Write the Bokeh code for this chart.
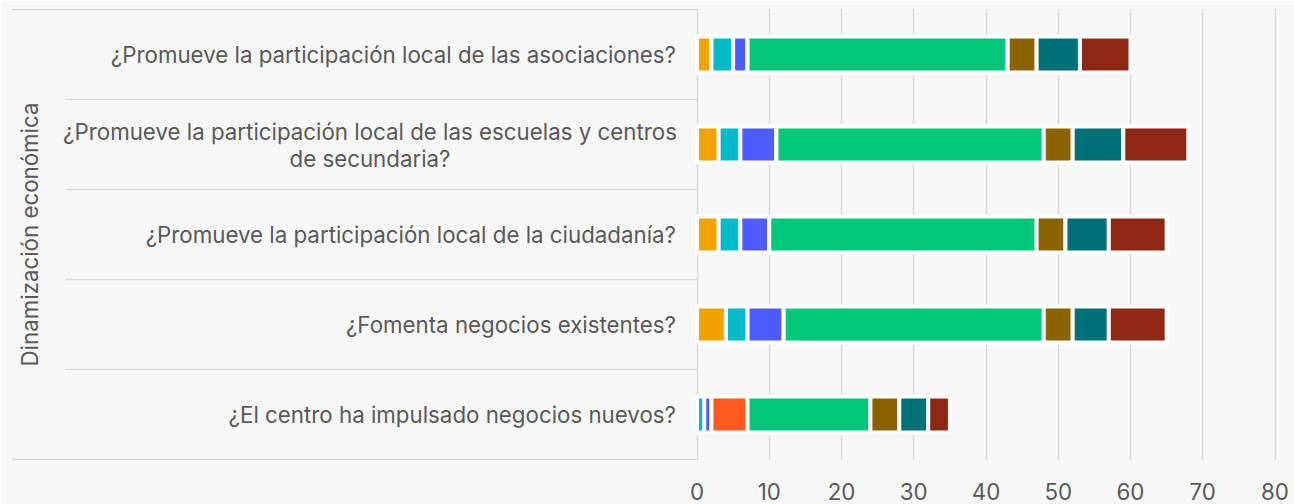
import math
from bokeh.plotting import figure
from bokeh.models import FactorRange, Range1d, FixedTicker, ColumnDataSource
from bokeh.core.properties import value
from bokeh.embed import file_html
from bokeh.resources import INLINE

# ---------------- data ----------------
group_label = "Dinamización económica"
categories = [
    "¿Promueve la participación local de las asociaciones?",
    "¿Promueve la participación local de las escuelas y centros\nde secundaria?",
    "¿Promueve la participación local de la ciudadanía?",
    "¿Fomenta negocios existentes?",
    "¿El centro ha impulsado negocios nuevos?",
]
series_names = ["s1", "s2", "s3", "s4", "s5", "s6", "s7", "s8"]
s1 = [2, 3, 3, 4, 0]
s2 = [3, 3, 3, 3, 1]
s3 = [2, 5, 4, 5, 1]
s4 = [0, 0, 0, 0, 5]
s5 = [36, 37, 37, 36, 17]
s6 = [4, 4, 4, 4, 4]
s7 = [6, 7, 6, 5, 4]
s8 = [7, 9, 8, 8, 3]
colors = ["#F0A300", "#00BAC9", "#4E5BFF", "#FF5A1F",
          "#00C67A", "#8C6200", "#007078", "#8C2814"]
x_ticks = [0, 10, 20, 30, 40, 50, 60, 70, 80]

# ---------------- layout ----------------
FIG_W, FIG_H = 1294, 504
ZERO_PX = 696.5          # position of value 0 from figure left
SCALE = 7.225            # px per unit
BORDER_L, BORDER_R = 11, 6
x_start = -(ZERO_PX - BORDER_L) / SCALE
x_end = (FIG_W - BORDER_R - ZERO_PX) / SCALE
SEP_X = -(ZERO_PX - 65) / SCALE
TEXT_COLOR = "#595959"
LINE_COLOR = "#D9D9D9"
BG = "#F7F7F7"
FONT = "Inter"
LABEL_SIZE = "22.3px"

factors = categories[::-1]
p = figure(
    width=FIG_W, height=FIG_H,
    x_range=Range1d(x_start, x_end),
    y_range=FactorRange(factors=factors, range_padding=1 / 90,
                        range_padding_units="absolute", factor_padding=0),
    output_backend="svg", toolbar_location=None, y_axis_location=None,
    min_border_left=BORDER_L, min_border_right=BORDER_R,
    min_border_top=8, min_border_bottom=44,
    background_fill_color=BG, border_fill_color=BG,
    outline_line_color=None,
)

data = dict(cat=categories)
for name, vals in zip(series_names, [s1, s2, s3, s4, s5, s6, s7, s8]):
    data[name] = vals
source = ColumnDataSource(data)

# grid
p.ygrid.visible = False
p.xgrid.ticker = FixedTicker(ticks=x_ticks)
p.xgrid.grid_line_color = LINE_COLOR
p.xgrid.grid_line_width = 1.5

# table lines on the left
top = [(categories[0], 0.5)]
bottom = [(categories[-1], -0.5)]
p.segment(x0=[x_start, x_start], x1=[0, 0], y0=top + bottom, y1=top + bottom,
          line_color=LINE_COLOR, line_width=1.5)
seps = [(c, -0.5) for c in categories[:-1]]
p.segment(x0=[SEP_X] * len(seps), x1=[0] * len(seps), y0=seps, y1=seps,
          line_color=LINE_COLOR, line_width=1.5)

# bars
p.hbar_stack(series_names, y="cat", height=0.4, source=source,
             fill_color=colors, line_color="white", line_width=4)

# category labels
single = [c for c in categories if "\n" not in c]
multi = [c for c in categories if "\n" in c]
p.text(x=[0] * len(single), y=single, text=single, x_offset=-21,
       text_align="right", text_baseline="middle",
       text_font=value(FONT), text_font_size=LABEL_SIZE, text_color=TEXT_COLOR)
p.text(x=[0] * len(multi), y=multi, text=multi, x_offset=-327,
       text_align="center", text_baseline="middle", text_line_height=1.0,
       text_font=value(FONT), text_font_size=LABEL_SIZE, text_color=TEXT_COLOR)

# group label
p.text(x=[x_start], y=[categories[2]], text=[group_label], x_offset=18,
       angle=math.pi / 2, text_align="center", text_baseline="middle",
       text_font=value(FONT), text_font_size=LABEL_SIZE, text_color=TEXT_COLOR)

# x axis
ax = p.xaxis[0]
ax.ticker = FixedTicker(ticks=x_ticks)
ax.axis_line_color = None
ax.major_tick_line_color = None
ax.minor_tick_line_color = None
ax.major_label_standoff = 16
ax.major_label_text_font = FONT
ax.major_label_text_font_size = LABEL_SIZE
ax.major_label_text_color = TEXT_COLOR

open("out.html", "w").write(file_html(p, INLINE))
